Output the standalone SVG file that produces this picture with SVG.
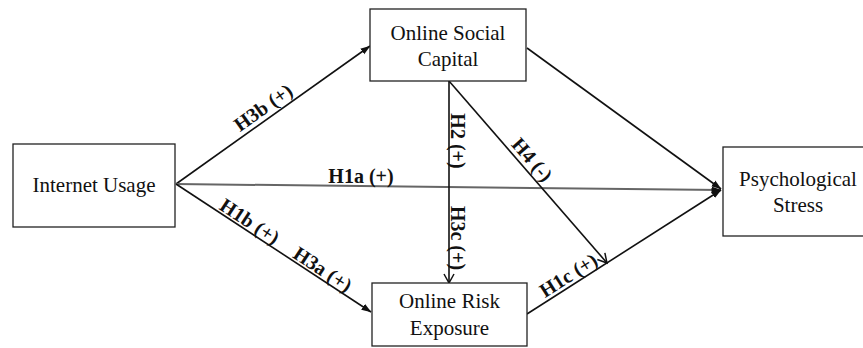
<svg xmlns="http://www.w3.org/2000/svg" width="863" height="348" viewBox="0 0 863 348">
<style>
.box{fill:#fff;stroke:#222;stroke-width:1.3}
.nt{font-family:"Liberation Serif","Times New Roman",serif;font-size:21px;fill:#111;text-anchor:middle}
.lb{font-family:"Liberation Serif","Times New Roman",serif;font-size:20px;font-weight:bold;fill:#111;text-anchor:middle}
.ln{stroke:#111;stroke-width:1.6;fill:none}
</style>
<defs>
<marker id="arr" markerUnits="userSpaceOnUse" markerWidth="10" markerHeight="8" refX="9.5" refY="4" orient="auto">
<path d="M0,0.5 L10,4 L0,7.5 z" fill="#111"/>
</marker>
<marker id="varr" markerUnits="userSpaceOnUse" markerWidth="12" markerHeight="12" refX="10" refY="6" orient="auto">
<path d="M1,1 L10,6 L1,11" fill="none" stroke="#111" stroke-width="1.5"/>
</marker>
</defs>
<rect width="863" height="348" fill="#fff"/>
<g id="connectors">
<line class="ln" x1="176" y1="184" x2="370" y2="46" marker-end="url(#arr)"/>
<line x1="176" y1="184" x2="721" y2="190" stroke="#666" stroke-width="2" marker-end="url(#arr)"/>
<line class="ln" x1="176" y1="184" x2="371" y2="312" marker-end="url(#arr)"/>
<line class="ln" x1="527" y1="48" x2="721" y2="189" marker-end="url(#arr)"/>
<line class="ln" x1="527" y1="314" x2="721" y2="190" marker-end="url(#arr)"/>
<line class="ln" x1="449" y1="81" x2="449" y2="283" marker-end="url(#varr)"/>
<line class="ln" x1="449" y1="81" x2="607" y2="263" marker-end="url(#varr)"/>
<text class="lb" transform="translate(267,113) rotate(-35.4)">H3b (+)</text>
<text class="lb" x="361" y="183">H1a (+)</text>
<text class="lb" transform="translate(246,227) rotate(33.3)">H1b (+)</text>
<text class="lb" transform="translate(319,275) rotate(33.3)">H3a (+)</text>
<text class="lb" transform="translate(451,141) rotate(90)">H2 (+)</text>
<text class="lb" transform="translate(451,238) rotate(90)">H3c (+)</text>
<text class="lb" transform="translate(527,164) rotate(49)">H4 (-)</text>
<text class="lb" transform="translate(572,281) rotate(-32.4)">H1c (+)</text>
</g>
<g id="internet-usage">
<rect class="box" x="13" y="144" width="162" height="83"/>
<text class="nt" x="94" y="192">Internet Usage</text>
</g>
<g id="online-social-capital">
<rect class="box" x="370" y="9" width="156" height="72"/>
<text class="nt" x="448" y="40">Online Social</text>
<text class="nt" x="448" y="66">Capital</text>
</g>
<g id="online-risk-exposure">
<rect class="box" x="372" y="283" width="155" height="63"/>
<text class="nt" x="449.5" y="308">Online Risk</text>
<text class="nt" x="449.5" y="335">Exposure</text>
</g>
<g id="psychological-stress">
<rect class="box" x="723" y="147" width="150" height="89"/>
<text class="nt" x="798" y="186">Psychological</text>
<text class="nt" x="798" y="212">Stress</text>
</g>
</svg>
